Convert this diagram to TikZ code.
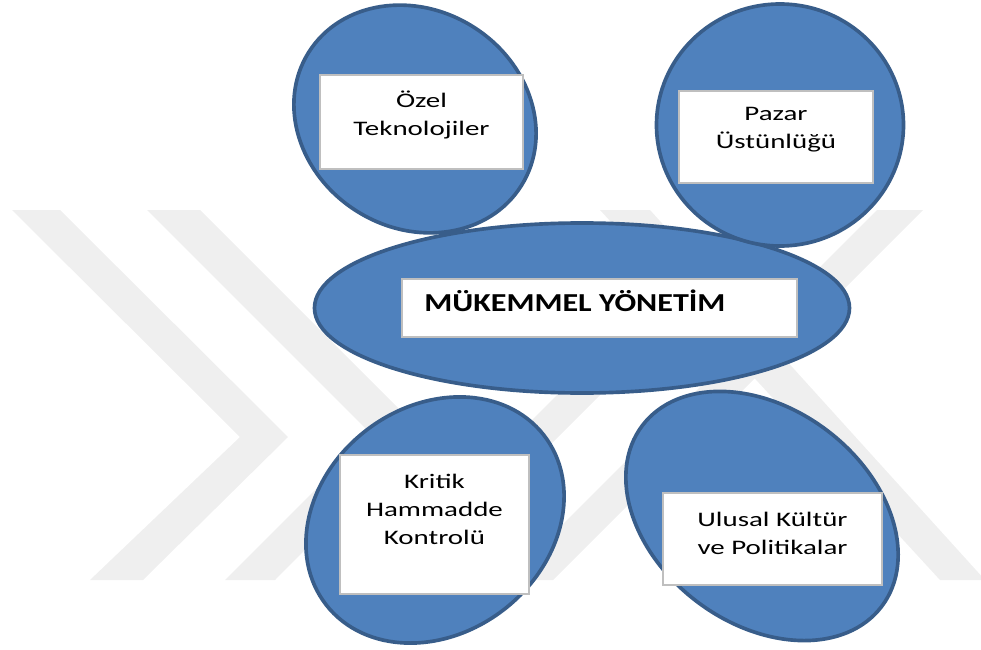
\documentclass[tikz,border=0pt]{standalone}
\usepackage{fontspec}
\setmainfont{Carlito}[FakeStretch=1.4]
\newfontfamily\titlefont{Carlito}[FakeStretch=1.24]
\usetikzlibrary{shapes.geometric,positioning}
\definecolor{blobblue}{HTML}{4F81BD}
\definecolor{blobedge}{HTML}{385D8A}
\definecolor{cardgray}{HTML}{BFBFBF}
\definecolor{markgray}{HTML}{EFEFEF}
\newlength{\pxu}
\setlength{\pxu}{0.025cm}

\begin{document}
\begin{tikzpicture}[
  x=0.025cm, y=-0.025cm,
  blob/.style={ellipse, draw=blobedge, fill=blobblue,
               line width=2.6pt, inner sep=0pt},
  card/.style={rectangle, draw=cardgray, fill=white,
               line width=1.4pt, inner sep=0pt},
  cardtext/.style={align=center, inner sep=0pt,
                   font=\fontsize{14.7}{20}\selectfont},
  wmark/.style={fill=markgray}
]
  \useasboundingbox (0,0) rectangle (981,650);

  %% Background mark
  \fill[wmark] (12,210) -- (60,210) -- (288,437) -- (143,580)
    -- (90,580) -- (240,437) -- cycle;
  \fill[wmark] (147,210) -- (200,210) -- (422,432) -- (275,580)
    -- (225,580) -- (371,434) -- cycle;
  \fill[wmark] (877,210) -- (923,210) -- (553,580) -- (507,580) -- cycle;
  \fill[wmark] (742,210) -- (785,210) -- (415,580) -- (372,580) -- cycle;
  \fill[wmark] (600,210) -- (650,210) -- (985,580) -- (940,580) -- cycle;

  %% Ellipses
  \node[blob, minimum width=251\pxu, minimum height=218\pxu, rotate=-32]
    (ozel) at (415,119) {};
  \node[blob, minimum width=276\pxu, minimum height=226\pxu, rotate=38]
    (kritik) at (435,520) {};
  \node[blob, minimum width=300\pxu, minimum height=215\pxu, rotate=-37]
    (ulusal) at (762,516) {};
  \node[blob, minimum width=535\pxu, minimum height=170\pxu]
    (yonetim) at (582,308) {};
  \node[blob, minimum width=247\pxu, minimum height=242\pxu]
    (pazar) at (780,125) {};

  %% Text boxes
  \node[card, minimum width=203\pxu, minimum height=94\pxu]
    (ozelbox) at (421.5,122) {};
  \node[cardtext] (ozeltxt) at ([yshift=7\pxu]ozelbox.center)
    {Özel\\Teknolojiler};

  \node[card, minimum width=194\pxu, minimum height=92\pxu]
    (pazarbox) at (776,137) {};
  \node[cardtext] (pazartxt) at ([yshift=7\pxu]pazarbox.center)
    {Pazar\\Üstünlüğü};

  \node[card, minimum width=395\pxu, minimum height=58\pxu]
    (yonetimbox) at (599.5,308) {};
  \node[anchor=west, inner sep=0pt,
        font=\titlefont\bfseries\fontsize{18.4}{22}\selectfont]
    (yonetimtxt) at ([xshift=23\pxu, yshift=7\pxu]yonetimbox.west)
    {MÜKEMMEL YÖNETİM};

  \node[card, minimum width=189\pxu, minimum height=139\pxu]
    (kritikbox) at (434.5,524.5) {};
  \node[cardtext] (kritiktxt) at ([yshift=15\pxu]kritikbox.center)
    {Kritik\\Hammadde\\Kontrolü};

  \node[card, minimum width=219\pxu, minimum height=92\pxu]
    (ulusalbox) at (772.5,539) {};
  \node[cardtext] (ulusaltxt) at ([yshift=6\pxu]ulusalbox.center)
    {Ulusal Kültür\\ve Politikalar};
\end{tikzpicture}
\end{document}
